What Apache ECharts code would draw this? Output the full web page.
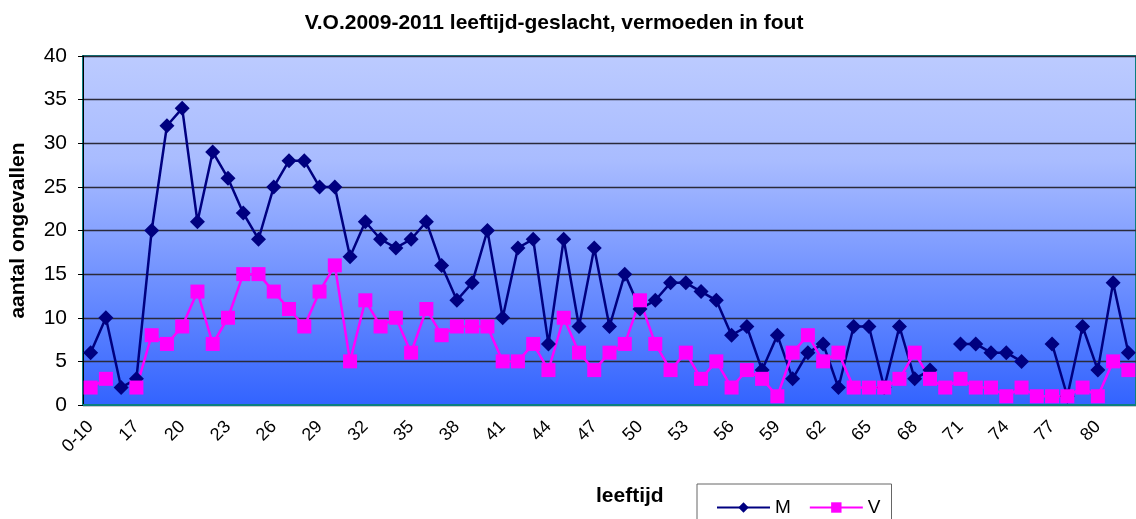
<!DOCTYPE html>
<html lang="nl">
<head>
    <meta charset="UTF-8">
    <title>V.O.2009-2011 leeftijd-geslacht</title>
    <style>
        html,body{
            padding: 0;margin: 0;background: #fff;
        }
        #chart{
            width: 1136px;height: 519px;
        }
    </style>
    <script src="https://cdn.jsdelivr.net/npm/echarts@6/dist/echarts.min.js"></script>
</head>
<body>
<div id="chart"></div>
<script>
    // leeftijd categorieen
    var leeftijd = ['0-10','15','16','17','18','19','20','21','22','23','24','25','26','27','28','29','30',
        '31','32','33','34','35','36','37','38','39','40','41','42','43','44','45','46','47','48','49','50',
        '51','52','53','54','55','56','57','58','59','60','61','62','63','64','65','66','67','68','69','70',
        '71','72','73','74','75','76','77','78','79','80','81','82'];

    // aantal ongevallen, mannen
    var mannen = [6,10,2,3,20,32,34,21,29,26,22,19,25,28,28,25,25,17,21,19,18,19,21,16,12,14,20,10,18,19,
        7,19,9,18,9,15,11,12,14,14,13,12,8,9,4,8,3,6,7,2,9,9,2,9,3,4,null,7,7,6,6,5,null,7,1,9,4,14,6];

    // aantal ongevallen, vrouwen
    var vrouwen = [2,3,null,2,8,7,9,13,7,10,15,15,13,11,9,13,16,5,12,9,10,6,11,8,9,9,9,5,5,7,
        4,10,6,4,6,7,12,7,4,6,3,5,2,4,3,1,6,8,5,6,2,2,2,3,6,3,2,3,2,2,1,2,1,1,1,2,1,5,4];

    var yTicks = [0,5,10,15,20,25,30,35,40];

    var font = 'Liberation Sans, Arial, sans-serif';
    var myChart = echarts.init(document.getElementById('chart'));

    var option = {
        animation: false,
        title: {
            text: 'V.O.2009-2011 leeftijd-geslacht, vermoeden in fout',
            left: 549, top: 8, textAlign: 'center',
            textStyle: {fontFamily: font, fontSize: 21, fontWeight: 'bold', color: '#000'}
        },
        legend: {
            data: ['M','V'],
            left: 697, top: 484,
            padding: [14, 11, 14, 19],
            itemWidth: 53, itemHeight: 13, itemGap: 18,
            borderColor: '#666', borderWidth: 1,
            textStyle: {fontFamily: font, fontSize: 19, color: '#000'}
        },
        graphic: [{
            type: 'text', left: 596, top: 486,
            style: {text: 'leeftijd', font: 'bold 21px ' + font, fill: '#000'}
        }],
        grid: {
            left: 82, top: 56, bottom: 114, right: -9,
            show: true,
            borderColor: '#0b7f80', borderWidth: 2,
            backgroundColor: new echarts.graphic.LinearGradient(0, 0, 0, 1, [
                {offset: 0, color: '#bccbff'},
                {offset: 0.3, color: '#a9bcff'},
                {offset: 1, color: '#3263ff'}
            ])
        },
        xAxis: {
            type: 'category',
            data: leeftijd,
            boundaryGap: true,
            axisLine: {lineStyle: {color: '#0b7f80', width: 2}},
            axisTick: {interval: 0, length: 5, lineStyle: {color: '#000'}},
            axisLabel: {
                interval: 2, rotate: 45, margin: 19,
                fontFamily: font, fontSize: 18, color: '#000'
            }
        },
        yAxis: {
            type: 'value',
            min: yTicks[0], max: yTicks[yTicks.length - 1], interval: 5,
            name: 'aantal ongevallen',
            nameLocation: 'middle', nameGap: 54,
            nameTextStyle: {fontFamily: font, fontSize: 21, fontWeight: 'bold', color: '#000'},
            axisLine: {show: true, lineStyle: {color: '#000', width: 1}},
            axisTick: {show: true, length: 5, lineStyle: {color: '#000'}},
            axisLabel: {fontFamily: font, fontSize: 21, color: '#000', margin: 16},
            splitLine: {lineStyle: {color: '#2a2a3a', width: 1.3}}
        },
        series: [
            {
                name: 'M', type: 'line', data: mannen,
                symbol: 'diamond', symbolSize: 15, showAllSymbol: true,
                connectNulls: false,
                lineStyle: {color: '#000080', width: 2.5},
                itemStyle: {color: '#000080'}
            },
            {
                name: 'V', type: 'line', data: vrouwen,
                symbol: 'rect', symbolSize: 14, showAllSymbol: true,
                connectNulls: false,
                lineStyle: {color: '#ff00ff', width: 2.5},
                itemStyle: {color: '#ff00ff'}
            }
        ]
    };
    myChart.setOption(option);
</script>
</body>
</html>
